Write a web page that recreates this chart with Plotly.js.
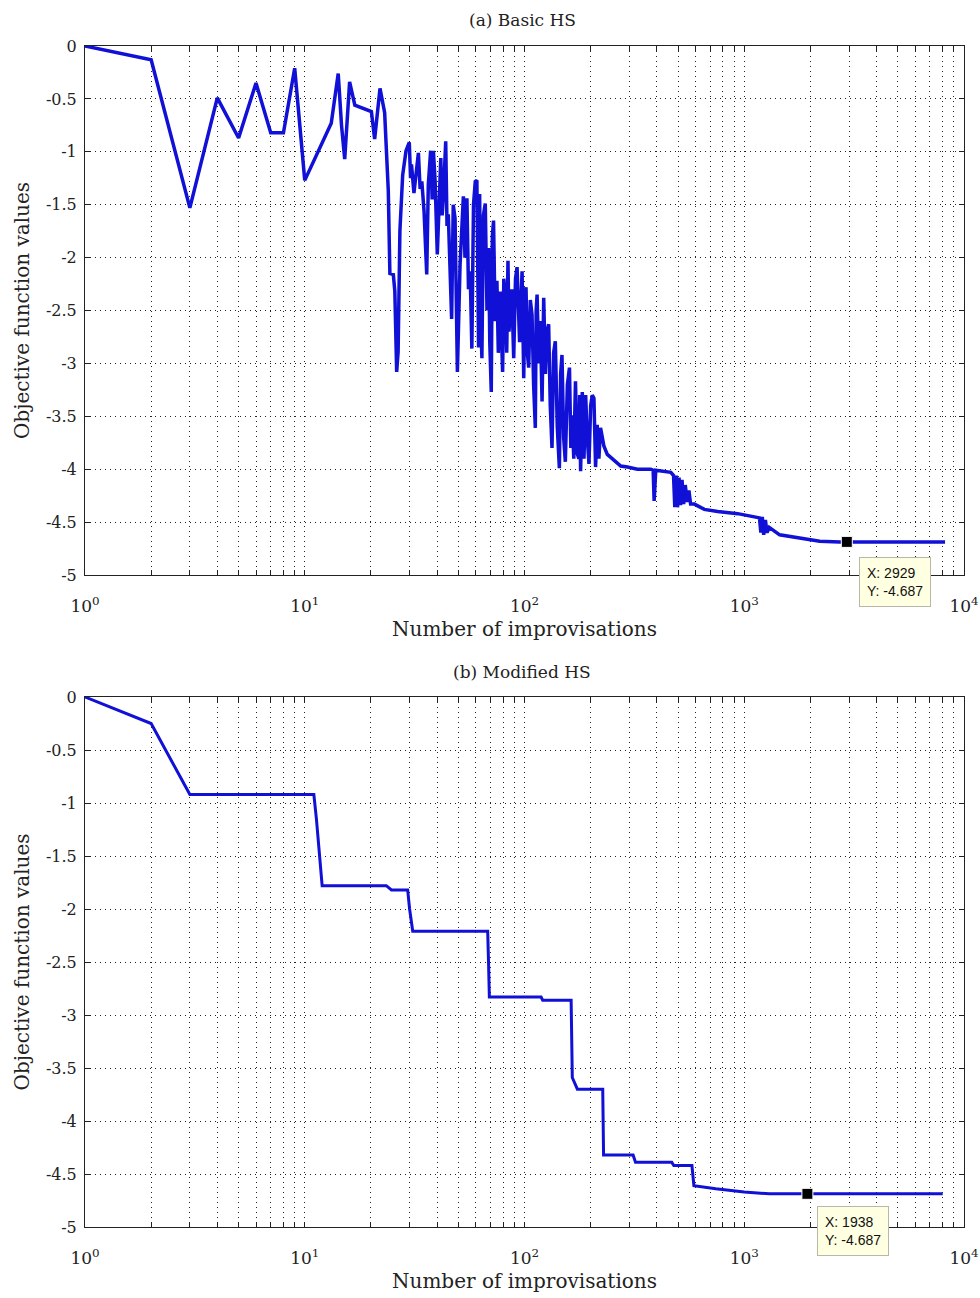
<!DOCTYPE html>
<html>
<head>
<meta charset="utf-8">
<script src="https://cdn.plot.ly/plotly-3.0.1.min.js"></script>
<style>html,body{margin:0;padding:0;background:#fff;}#chart{width:980px;height:1298px;}</style>
</head>
<body>
<div id="chart"></div>
<script>
// ---- (a) Basic HS : number of improvisations vs objective value ----
var basicX = [1, 2, 3, 4, 5, 6, 7, 8, 9, 10, 13.2, 14.2, 14.7, 15.2, 16, 16.9, 20.1, 20.8, 22, 23.1, 24, 24.4,
  25.3, 25.7, 26.2, 26.6, 27.1, 27.9, 28.9, 29.9, 30.3, 30.6, 31.4, 32.3, 32.9, 33.5, 34.1, 34.9, 35.9, 36.5, 37.4,
  38, 38.5, 39.2, 40.1, 41.6, 42.2, 42.7, 43.8, 44.4, 45.0, 46.6, 47.4, 48.3, 49.5, 50.9, 52.7, 53.6, 54.7, 55.6,
  56.6, 57.6, 58.6, 59.7, 60.7, 61.8, 62.5, 63.2, 64.0, 65.0, 66.3, 67.5, 68.7, 69.5, 70.6, 71.4, 72.3, 73.5, 74.9,
  76, 77.6, 78.5, 79.5, 80.5, 81.8, 83, 84.1, 85, 86.1, 87.5, 89.3, 91, 92.5, 95, 97.5, 99.2, 100.4, 101.6, 103,
  104.5, 106.3, 108.2, 110, 112.0, 113, 114.1, 116, 118, 120.2, 122.3, 124.5, 126.5, 128.8, 131, 133.4, 135.7,
  138.1, 141, 144.1, 146, 148.1, 150.7, 153.4, 156.7, 160.2, 162.5, 164.7, 167.6, 170.6, 173.6, 176.7, 178.3, 180,
  183.2, 186.5, 189.8, 193, 196.5, 200, 203.4, 207, 210.6, 214.2, 218, 221.8, 229.7, 238.1, 255.4, 274.1, 294.0,
  326.3, 375.1, 385, 389, 395.7, 463.3, 476.7, 483, 490, 497, 505, 513, 521, 530, 539, 550, 560, 570, 593, 658, 757,
  934, 1153, 1173, 1190, 1208, 1226, 1248, 1270, 1300, 1449, 1787, 2205, 2719, 2929, 8200];
var basicY = [0, -0.13, -1.53, -0.49, -0.87, -0.35, -0.82, -0.82, -0.21, -1.27, -0.73, -0.26, -0.75, -1.07, -0.34, -0.56, -0.62, -0.88, -0.40, -0.63, -1.37, -2.15,
  -2.16, -2.32, -3.08, -2.89, -1.75, -1.22, -0.99, -0.91, -1.25, -1.12, -1.39, -1.15, -1.01, -1.35, -1.28, -1.56, -2.16, -1.31, -0.99,
  -1.45, -0.99, -1.28, -1.97, -1.06, -1.6, -1.44, -0.90, -1.7, -1.59, -2.58, -1.5, -1.63, -3.08, -2.07, -1.42, -2.0, -1.44, -2.3,
  -2.13, -2.86, -1.5, -1.28, -1.27, -2.85, -1.4, -2.6, -2.95, -1.6, -1.49, -2.5, -1.91, -2.8, -3.27, -1.8, -1.65, -2.6, -2.22,
  -2.9, -2.32, -2.7, -3.08, -2.2, -2.38, -2.9, -2.03, -2.7, -2.54, -2.3, -2.95, -2.2, -2.09, -2.8, -2.13, -3.14, -2.4, -2.28, -2.9,
  -3.04, -2.4, -2.54, -3.2, -3.61, -2.5, -2.35, -3.0, -2.6, -3.36, -2.38, -3.1, -2.7, -2.63, -3.4, -3.80, -2.9,
  -2.79, -3.6, -3.99, -3.1, -2.92, -3.7, -3.93, -3.2, -3.04, -3.8, -3.49, -3.9, -3.17, -3.85, -3.90, -3.3, -4.02,
  -3.27, -3.9, -3.30, -3.7, -3.95, -3.4, -3.30, -3.33, -3.98, -3.58, -3.9, -3.61, -3.78, -3.86, -3.91, -3.97, -3.98,
  -4.00, -4.00, -4.01, -4.30, -4.01, -4.03, -4.06, -4.36, -4.06, -4.36, -4.08, -4.34, -4.10, -4.33, -4.15, -4.31, -4.2, -4.33, -4.33, -4.38, -4.40,
  -4.42, -4.46, -4.46, -4.60, -4.45, -4.62, -4.48, -4.60, -4.55, -4.62, -4.65, -4.68, -4.687, -4.687, -4.687];
var basicTip = {x: 2929, y: -4.687};

// ---- (b) Modified HS ----
var modX = [1, 2, 3, 11, 11.3, 11.6, 12, 23.5, 24.8, 29.4, 30, 31, 68, 68.6, 69.2, 119, 121, 163, 165, 174, 227, 229,
  312, 320, 468, 478, 578, 590, 742, 1000, 1300, 1938, 8000];
var modY = [0, -0.25, -0.92, -0.92, -1.15, -1.45, -1.78, -1.78, -1.82, -1.82, -2.0, -2.21, -2.21, -2.5, -2.83, -2.83, -2.86, -2.86, -3.59, -3.70, -3.70, -4.32,
  -4.32, -4.39, -4.39, -4.42, -4.42, -4.61, -4.64, -4.67, -4.687, -4.687, -4.687];
var modTip = {x: 1938, y: -4.687};

// ---- text ----
var panelTitles = ['(a) Basic HS', '(b) Modified HS'];
var xTitle = 'Number of improvisations';
var yTitle = 'Objective function values';
var decadeTicks = [1, 10, 100, 1000, 10000];
var decadeLabels = ['10<sup>0</sup>', '10<sup>1</sup>', '10<sup>2</sup>', '10<sup>3</sup>', '10<sup>4</sup>'];
var yTickVals = [0, -0.5, -1, -1.5, -2, -2.5, -3, -3.5, -4, -4.5, -5];
var yTickLabels = ['0', '-0.5', '-1', '-1.5', '-2', '-2.5', '-3', '-3.5', '-4', '-4.5', '-5'];

// minor log ticks (2..9 within each decade)
var minorTicks = [];
for (var d = 0; d < decadeTicks.length - 1; d++) {
  for (var m = 2; m <= 9; m++) { minorTicks.push(decadeTicks[d] * m); }
}

var serif = 'DejaVu Serif, Liberation Serif, serif';
var lineColor = 'rgb(16,16,214)';
var axisCol = '#222';
var dotted = '1px,4px';

function xAxis(anchor) {
  return {
    type: 'log', range: [0, 4], anchor: anchor, domain: [85/980, 964/980],
    tickmode: 'array', tickvals: decadeTicks, ticktext: decadeLabels,
    ticks: 'inside', ticklen: 5, tickcolor: axisCol, mirror: 'ticks',
    minor: {tickmode: 'array', tickvals: minorTicks, ticks: 'inside', ticklen: 5, tickcolor: axisCol,
            showgrid: true, gridcolor: axisCol, gridwidth: 1, griddash: dotted},
    showline: true, linecolor: axisCol, linewidth: 1,
    showgrid: true, gridcolor: axisCol, gridwidth: 1, griddash: dotted,
    zeroline: false, ticklabelstandoff: 16,
    tickfont: {family: serif, size: 17, color: axisCol},
    title: {text: xTitle, font: {family: serif, size: 20, color: axisCol}, standoff: 6}
  };
}
function yAxis(anchor, dom) {
  return {
    range: [-5, 0], anchor: anchor, domain: dom,
    tickmode: 'array', tickvals: yTickVals, ticktext: yTickLabels,
    ticks: 'inside', ticklen: 5, tickcolor: axisCol, mirror: 'ticks',
    showline: true, linecolor: axisCol, linewidth: 1,
    showgrid: true, gridcolor: axisCol, gridwidth: 1, griddash: dotted,
    zeroline: false, ticklabelstandoff: 4,
    tickfont: {family: serif, size: 16, color: axisCol},
    title: {text: yTitle, font: {family: serif, size: 20, color: axisCol}, standoff: 10}
  };
}

var traces = [
  {x: basicX, y: basicY, xaxis: 'x', yaxis: 'y', mode: 'lines', line: {color: lineColor, width: 3.5}, showlegend: false},
  {x: [basicTip.x], y: [basicTip.y], xaxis: 'x', yaxis: 'y', mode: 'markers', marker: {symbol: 'square', size: 11, color: '#000', line: {color: '#fff', width: 1}}, showlegend: false},
  {x: modX, y: modY, xaxis: 'x2', yaxis: 'y2', mode: 'lines', line: {color: lineColor, width: 3}, showlegend: false},
  {x: [modTip.x], y: [modTip.y], xaxis: 'x2', yaxis: 'y2', mode: 'markers', marker: {symbol: 'square', size: 11, color: '#000', line: {color: '#fff', width: 1}}, showlegend: false}
];

function tipAnn(tip, xr, yr, xs, ys) {
  return {
    xref: xr, yref: yr, x: Math.log10(tip.x), y: tip.y,
    text: 'X: ' + tip.x + '<br>Y: ' + tip.y.toFixed(3),
    showarrow: false, xanchor: 'left', yanchor: 'top', align: 'left',
    xshift: xs, yshift: ys,
    bgcolor: '#ffffe1', bordercolor: '#b8b8a8', borderwidth: 1, borderpad: 7,
    font: {family: 'Liberation Sans, Arial, sans-serif', size: 14, color: '#111'}
  };
}

var layout = {
  width: 980, height: 1298,
  margin: {l: 0, r: 0, t: 0, b: 0},
  paper_bgcolor: '#fff', plot_bgcolor: '#fff',
  showlegend: false,
  xaxis: xAxis('y'),
  yaxis: yAxis('x', [1 - 575/1298, 1 - 46/1298]),
  xaxis2: xAxis('y2'),
  yaxis2: yAxis('x2', [1 - 1227/1298, 1 - 697/1298]),
  annotations: [
    {xref: 'paper', yref: 'paper', x: 522/980, y: 1 - 20/1298, text: panelTitles[0], showarrow: false, xanchor: 'center', yanchor: 'middle', font: {family: serif, size: 17, color: axisCol}},
    {xref: 'paper', yref: 'paper', x: 522/980, y: 1 - 672/1298, text: panelTitles[1], showarrow: false, xanchor: 'center', yanchor: 'middle', font: {family: serif, size: 17, color: axisCol}},
    tipAnn(basicTip, 'x', 'y', 12, -15),
    tipAnn(modTip, 'x2', 'y2', 10, -12)
  ]
};

Plotly.newPlot('chart', traces, layout, {displayModeBar: false, staticPlot: true});
</script>
</body>
</html>
